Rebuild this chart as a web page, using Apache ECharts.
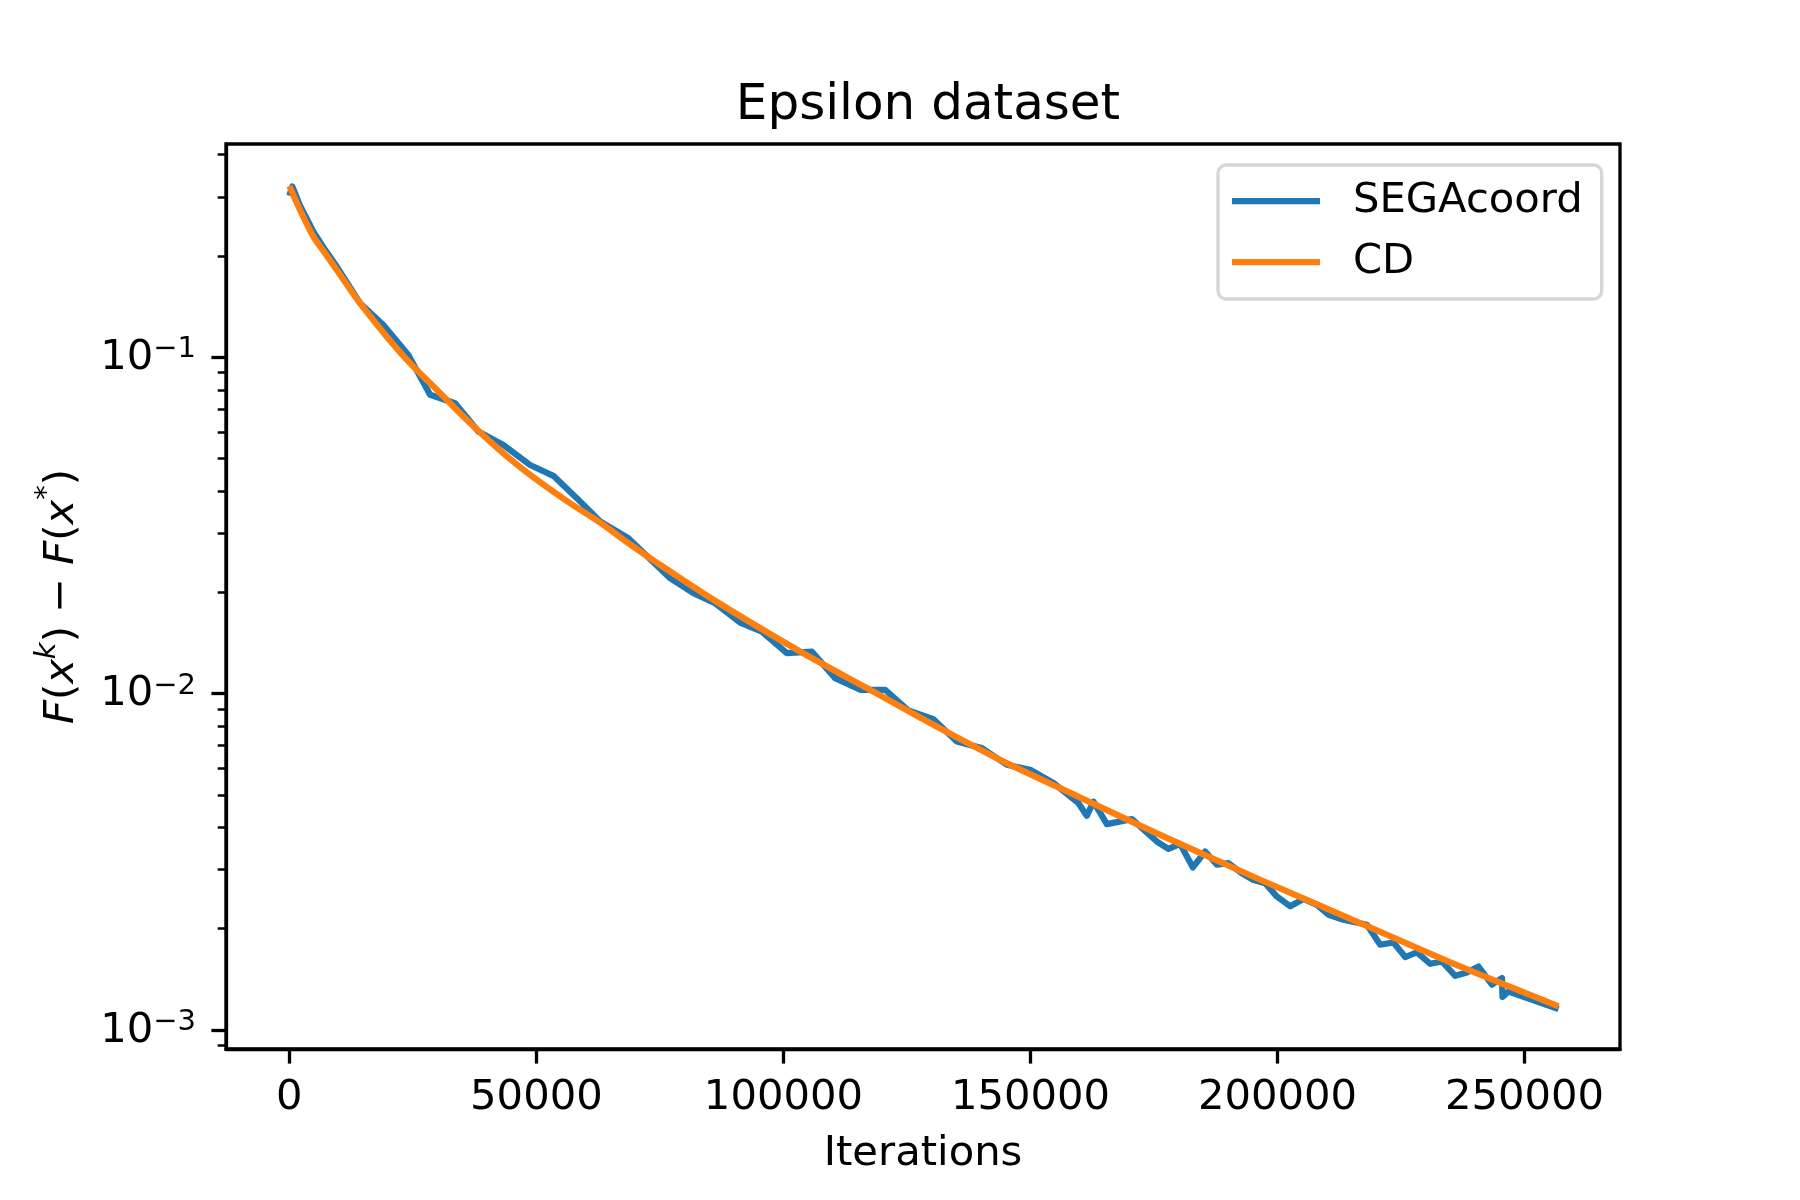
<!DOCTYPE html>
<html>
<head>
<meta charset="utf-8">
<script src="https://cdn.jsdelivr.net/npm/echarts@6/dist/echarts.min.js"></script>
<style>html,body{margin:0;padding:0;background:#fff;}#chart{width:1800px;height:1200px;}</style>
</head>
<body>
<div id="chart"></div>
<script>
// ---- data ----
const titleText = 'Epsilon dataset';
const seriesNames = ['SEGAcoord', 'CD'];
const xTicks = [0, 50000, 100000, 150000, 200000, 250000];
const yMajorTicks = [0.001, 0.01, 0.1];
const yMinorTicks = [0.0009, 0.002, 0.003, 0.004, 0.005, 0.006, 0.007, 0.008, 0.009,
  0.02, 0.03, 0.04, 0.05, 0.06, 0.07, 0.08, 0.09, 0.2, 0.3, 0.4];

const segaX = [0, 600, 2165, 4858, 7227, 9595, 14312, 19028, 24089, 28482, 33543, 38259, 43320, 48725, 53442,
  58178, 62895, 68624, 77065, 81782, 86174, 91235, 95628, 100689, 105749, 110466, 115527, 120588,
  125304, 130365, 135102, 140163, 145223, 149940, 154657, 159717, 161418, 162754, 165466, 170527,
  175588, 177936, 180305, 182875, 185365, 187734, 190082, 192794, 195143, 197511, 199879, 202572,
  205264, 207977, 210325, 213361, 218098, 220791, 223483, 225851, 228220, 230912, 233280, 235973,
  238341, 240689, 243402, 245426, 245548, 246762, 256884];
const segaY = [0.302, 0.322, 0.282, 0.2362, 0.2085, 0.1859, 0.1447, 0.1247, 0.1016, 0.0773, 0.0730, 0.0601, 0.0548,
  0.0478, 0.0444, 0.0381, 0.03246, 0.02897, 0.02203, 0.01989, 0.01856, 0.01626, 0.01528, 0.01318,
  0.01332, 0.01111, 0.01026, 0.01026, 0.00890, 0.00839, 0.00720, 0.00688, 0.00614, 0.00593, 0.00542,
  0.00472, 0.00433, 0.00477, 0.00409, 0.00423, 0.00363, 0.00345, 0.00357, 0.00304, 0.00339, 0.00310,
  0.00313, 0.00292, 0.00279, 0.00273, 0.00249, 0.00233, 0.00245, 0.002354, 0.002199, 0.002125,
  0.002053, 0.001791, 0.001819, 0.001646, 0.001699, 0.001572, 0.001597, 0.001448, 0.001481,
  0.001543, 0.001362, 0.001426, 0.001252, 0.001300, 0.001153];

const cdX = [0, 2165, 4858, 7227, 9595, 14312, 19717, 24433, 29838, 36579, 43320, 50081, 56822, 63563, 68623,
  73016, 85830, 103381, 116883, 130364, 143866, 156012, 176255, 196498, 216741, 236984, 256883];
const cdY = [0.3229, 0.274, 0.2283, 0.2038, 0.1817, 0.1447, 0.1151, 0.0960, 0.0800, 0.0637, 0.0518, 0.0432, 0.0368,
  0.03174, 0.0280, 0.02527, 0.0190, 0.01333, 0.01038, 0.00807, 0.00635, 0.00523, 0.0038, 0.002794,
  0.002077, 0.001543, 0.001174];

const pair = (xs, ys) => xs.map((x, i) => [x, ys[i]]);
const FONT = 'DejaVu Sans';
const FS = 41.7;

const chart = echarts.init(document.getElementById('chart'), null, {renderer: 'canvas'});
chart.setOption({
  backgroundColor: '#ffffff',
  animation: false,
  textStyle: {fontFamily: FONT, color: '#000'},
  title: {
    text: titleText, left: 923, top: 76, textAlign: 'center',
    textStyle: {fontFamily: FONT, fontSize: 50, fontWeight: 'normal', color: '#000'}
  },
  grid: {
    left: 226, right: 180, top: 144, bottom: 151,
    show: true, borderColor: '#000', borderWidth: 3.3, backgroundColor: 'transparent'
  },
  legend: {
    orient: 'vertical', left: 1218, top: 165,
    padding: [15, 19, 16, 14], itemGap: 19,
    itemWidth: 88, itemHeight: 6.25, icon: 'rect',
    backgroundColor: 'rgba(255,255,255,0.8)', borderColor: '#d6d6d6', borderWidth: 3.3, borderRadius: 8,
    textStyle: {fontFamily: FONT, fontSize: FS, color: '#000', padding: [0, 0, 0, 28]},
    data: seriesNames
  },
  xAxis: {
    type: 'value', min: -12825, max: 269325,
    name: 'Iterations', nameLocation: 'middle', nameGap: 84,
    nameTextStyle: {fontFamily: FONT, fontSize: FS, color: '#000'},
    axisLine: {show: true, onZero: false, lineStyle: {color: '#000', width: 3.3}},
    axisTick: {show: true, length: 14.6, lineStyle: {color: '#000', width: 3.3}, customValues: xTicks},
    axisLabel: {show: true, margin: 28, fontFamily: FONT, fontSize: FS, color: '#000',
      customValues: xTicks, formatter: v => String(v)},
    splitLine: {show: false}
  },
  yAxis: [{
    type: 'log', min: 0.000877, max: 0.4305,
    name: '{i|F}{n|(}{i|x}{s|k}{n|) − }{i|F}{n|(}{i|x}{s|*}{n|)}',
    nameLocation: 'middle', nameGap: 143, nameRotate: 90,
    nameTextStyle: {fontFamily: FONT, fontSize: FS, color: '#000',
      rich: {
        i: {fontFamily: FONT, fontSize: FS, fontStyle: 'italic', color: '#000', verticalAlign: 'bottom', lineHeight: 50},
        n: {fontFamily: FONT, fontSize: FS, color: '#000', verticalAlign: 'bottom', lineHeight: 50},
        s: {fontFamily: FONT, fontSize: 29, fontStyle: 'italic', color: '#000', verticalAlign: 'top', lineHeight: 50}
      }},
    axisLine: {show: true, onZero: false, lineStyle: {color: '#000', width: 3.3}},
    axisTick: {show: true, length: 14.6, lineStyle: {color: '#000', width: 3.3}, customValues: yMajorTicks},
    axisLabel: {show: true, margin: 30, customValues: yMajorTicks,
      formatter: v => '{b|10}{s|−' + Math.round(-Math.log10(v)) + '}',
      rich: {
        b: {fontFamily: FONT, fontSize: FS, color: '#000', verticalAlign: 'bottom', lineHeight: 44},
        s: {fontFamily: FONT, fontSize: 29, color: '#000', verticalAlign: 'top', lineHeight: 44}
      }},
    splitLine: {show: false}, minorTick: {show: false}
  }, {
    type: 'log', min: 0.000877, max: 0.4305, position: 'left',
    axisLine: {show: false, onZero: false},
    axisTick: {show: true, length: 8.3, lineStyle: {color: '#000', width: 2.5}, customValues: yMinorTicks},
    axisLabel: {show: false},
    splitLine: {show: false}
  }],
  series: [{
    name: seriesNames[0], type: 'line', yAxisIndex: 0, data: pair(segaX, segaY),
    showSymbol: false, symbol: 'none', color: '#1f77b4',
    lineStyle: {width: 6.25, color: '#1f77b4', join: 'round'}, z: 2
  }, {
    name: seriesNames[1], type: 'line', yAxisIndex: 0, data: pair(cdX, cdY),
    showSymbol: false, symbol: 'none', color: '#ff7f0e', smooth: 0.3,
    lineStyle: {width: 6.25, color: '#ff7f0e', join: 'round'}, z: 3
  }]
});
</script>
</body>
</html>
